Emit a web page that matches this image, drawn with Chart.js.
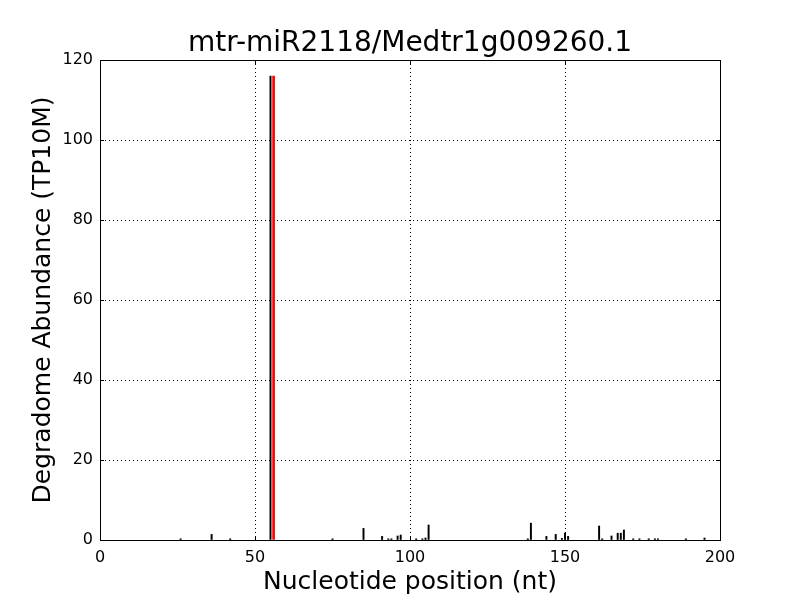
<!DOCTYPE html>
<html>
<head>
<meta charset="utf-8">
<script src="https://cdn.jsdelivr.net/npm/chart.js@4/dist/chart.umd.min.js"></script>
<style>
html,body{margin:0;padding:0;background:#fff;}
#wrap{width:800px;height:600px;}
</style>
</head>
<body>
<div id="wrap"><canvas id="c" width="800" height="600"></canvas></div>
<script>
const chartTitle = "mtr-miR2118/Medtr1g009260.1";
const xLabel = "Nucleotide position (nt)";
const yLabel = "Degradome Abundance (TP10M)";
const positions = [26,36,42,55,75,85,91,93,94,96,97,102,104,105,106,138,139,144,147,149,150,151,161,162,165,167,168,169,172,174,177,179,180,189,195];
const abundances = [0.3,1.4,0.3,116,0.3,2.9,0.9,0.3,0.3,1.0,1.25,0.3,0.3,0.5,3.75,0.3,4.2,0.9,1.4,0.4,1.7,0.9,3.5,0.3,1.0,1.7,1.7,2.5,0.3,0.3,0.3,0.3,0.3,0.3,0.5];
const targetPositions = [56];
const targetAbundances = [116];
const xTicks = [0,50,100,150,200];
const yTicks = [0,20,40,60,80,100,120];

const FONT = "'DejaVu Sans', sans-serif";

const framePlugin = {
  id: 'frame',
  afterDraw(chart) {
    const {ctx, chartArea: a, scales} = chart;
    ctx.save();
    ctx.strokeStyle = '#000';
    ctx.lineWidth = 1;
    ctx.beginPath();
    xTicks.forEach(v => {
      const x = Math.round(scales.x.getPixelForValue(v)) + 0.5;
      ctx.moveTo(x, a.bottom); ctx.lineTo(x, a.bottom - 4);
      ctx.moveTo(x, a.top); ctx.lineTo(x, a.top + 4);
    });
    yTicks.forEach(v => {
      const y = Math.round(scales.y.getPixelForValue(v)) + 0.5;
      ctx.moveTo(a.left, y); ctx.lineTo(a.left + 4, y);
      ctx.moveTo(a.right, y); ctx.lineTo(a.right - 4, y);
    });
    ctx.stroke();
    ctx.strokeRect(Math.round(a.left) + 0.5, Math.round(a.top) + 0.5, Math.round(a.right - a.left), Math.round(a.bottom - a.top));
    ctx.restore();
  }
};

new Chart(document.getElementById('c'), {
  type: 'bar',
  data: {
    datasets: [
      {
        data: targetPositions.map((p, i) => ({x: p, y: targetAbundances[i]})),
        backgroundColor: '#ff0000',
        borderWidth: 0,
        barThickness: 2,
        order: 1
      },
      {
        data: positions.map((p, i) => ({x: p, y: abundances[i]})),
        backgroundColor: '#000000',
        borderWidth: 0,
        barThickness: 1.3,
        order: 2
      }
    ]
  },
  options: {
    responsive: false,
    animation: false,
    devicePixelRatio: 1,
    grouped: false,
    layout: {padding: {left: 20, right: 0, top: 0, bottom: 0}},
    plugins: {
      legend: {display: false},
      tooltip: {enabled: false},
      title: {
        display: true,
        text: chartTitle,
        color: '#000',
        font: {family: FONT, size: 28, weight: 'normal', lineHeight: 1},
        padding: {top: 30, bottom: 2}
      }
    },
    scales: {
      x: {
        type: 'linear',
        min: 0, max: 200,
        offset: false,
        afterFit: s => { s.height = 60; },
        ticks: {stepSize: xTicks[1] - xTicks[0], autoSkip: false, color: '#000', font: {family: FONT, size: 16}, padding: 8, maxRotation: 0},
        grid: {color: '#000', lineWidth: 1, drawTicks: false, offset: false},
        border: {display: true, color: '#000', dash: [1, 3]},
        title: {display: true, text: xLabel, color: '#000', font: {family: FONT, size: 25}, padding: {top: 0, bottom: 3}}
      },
      y: {
        type: 'linear',
        min: 0, max: 120,
        afterFit: s => { s.width = 80; },
        ticks: {stepSize: yTicks[1] - yTicks[0], autoSkip: false, color: '#000', font: {family: FONT, size: 16}, padding: 7},
        grid: {color: '#000', lineWidth: 1, drawTicks: false},
        border: {display: true, color: '#000', dash: [1, 3]},
        title: {display: true, text: yLabel, color: '#000', font: {family: FONT, size: 25}, padding: {top: 8, bottom: 0}}
      },
      y2: {
        type: 'linear',
        position: 'right',
        min: 0, max: 120,
        afterFit: s => { s.width = 80; },
        ticks: {display: false},
        grid: {display: false, drawTicks: false},
        border: {display: false}
      }
    }
  },
  plugins: [framePlugin]
});
</script>
</body>
</html>
